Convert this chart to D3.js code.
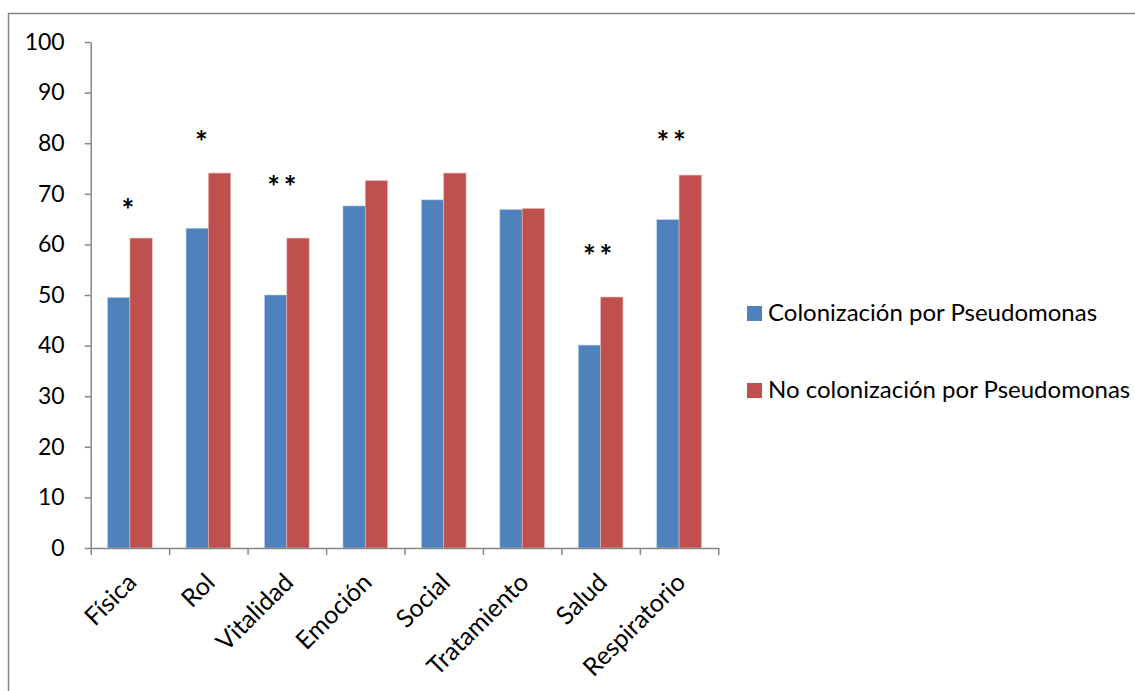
<!DOCTYPE html>
<html>
<head>
<meta charset="utf-8">
<script src="https://cdn.jsdelivr.net/npm/d3@7"></script>
<style>
  html, body { margin: 0; padding: 0; background: #fff; }
  svg { display: block; font-family: Lato, "Open Sans", sans-serif; }
</style>
</head>
<body>
<svg id="chart" width="1135" height="691"></svg>
<script>
// Quality-of-life domains
const categories = ["Física", "Rol", "Vitalidad", "Emoción", "Social", "Tratamiento", "Salud", "Respiratorio"];
const seriesNames = ["Colonización por Pseudomonas", "No colonización por Pseudomonas"];
const colonizados = [49.5, 63.2, 50.0, 67.6, 68.8, 66.9, 40.1, 64.9];
const noColonizados = [61.25, 74.1, 61.25, 72.6, 74.1, 67.1, 49.6, 73.7];
const yTicks = [0, 10, 20, 30, 40, 50, 60, 70, 80, 90, 100];
// Significance marks: category, mark, baseline height on the value axis
const sigCategories = ["Física", "Rol", "Vitalidad", "Salud", "Respiratorio"];
const sigMarks = ["*", "*", "**", "**", "**"];
const sigLevels = [64.6, 78.0, 69.1, 55.6, 78.0];
const sigShift = [-2, -7, -5, -3, -8];

const colors = ["#4F81BD", "#C0504D"];
const svg = d3.select("#chart");

// Outer chart frame (extends past the right and bottom edges)
svg.append("rect")
  .attr("x", 8.5).attr("y", 13.5)
  .attr("width", 1200).attr("height", 800)
  .attr("fill", "none").attr("stroke", "#868686").attr("stroke-width", 1.5);

const plot = { left: 90.7, right: 718.3, top: 42, bottom: 548 };

const x0 = d3.scaleBand()
  .domain(categories)
  .range([plot.left, plot.right])
  .paddingInner(0.431)
  .paddingOuter(0.2155);

const x1 = d3.scaleBand()
  .domain([0, 1])
  .range([0, x0.bandwidth()]);

const y = d3.scaleLinear().domain([0, 100]).range([plot.bottom, plot.top]);

const series = [colonizados, noColonizados];

// Bars
series.forEach((vals, si) => {
  svg.append("g").selectAll("rect")
    .data(vals)
    .join("rect")
    .attr("x", (d, i) => x0(categories[i]) + x1(si))
    .attr("y", d => y(d))
    .attr("width", x1.bandwidth())
    .attr("height", d => y(0) - y(d))
    .attr("fill", colors[si])
    .attr("stroke", si === 0 ? "#b9cde5" : "#e6b9b8")
    .attr("stroke-width", 0.6);
});

// Y axis
const yAxis = svg.append("g")
  .attr("transform", `translate(${plot.left},0)`)
  .call(d3.axisLeft(y).tickValues(yTicks).tickSize(6).tickPadding(20).tickSizeOuter(0));
yAxis.select(".domain").attr("stroke", "#868686").attr("stroke-width", 1.5);
yAxis.selectAll(".tick line").attr("stroke", "#868686").attr("stroke-width", 1.5);
yAxis.selectAll(".tick text")
  .attr("font-size", 23).attr("fill", "#000")
  .attr("font-family", "Lato, sans-serif");

// X axis: ticks at category boundaries
const xb = d3.scaleLinear().domain([0, categories.length]).range([plot.left, plot.right]);
const xAxis = svg.append("g")
  .attr("transform", `translate(0,${plot.bottom})`)
  .call(d3.axisBottom(xb).tickValues(d3.range(categories.length + 1))
    .tickSize(7).tickSizeOuter(0).tickFormat(""));
xAxis.select(".domain").attr("stroke", "#868686").attr("stroke-width", 1.5);
xAxis.selectAll(".tick line").attr("stroke", "#868686").attr("stroke-width", 1.5);

// Rotated category labels
svg.append("g").selectAll("text")
  .data(categories)
  .join("text")
  .attr("transform", d => `translate(${x0(d) + x0.bandwidth() / 2 + 8},${584}) rotate(-45)`)
  .attr("text-anchor", "end")
  .attr("font-size", 25)
  .attr("fill", "#000")
  .text(d => d);

// Significance asterisks
svg.append("g").selectAll("text")
  .data(sigCategories)
  .join("text")
  .attr("x", (d, i) => x0(d) + x0.bandwidth() / 2 + sigShift[i])
  .attr("y", (d, i) => y(sigLevels[i]))
  .attr("text-anchor", "middle")
  .attr("font-size", 30)
  .attr("font-weight", "bold")
  .attr("font-family", "Lato, sans-serif")
  .attr("fill", "#000")
  .text((d, i) => sigMarks[i].split("").join("\u2009"));

// Legend
const legend = svg.append("g").selectAll("g")
  .data(seriesNames)
  .join("g")
  .attr("transform", (d, i) => `translate(747,${306 + i * 77})`);
legend.append("rect")
  .attr("width", 15).attr("height", 15)
  .attr("fill", (d, i) => colors[i]);
legend.append("text")
  .attr("x", 21).attr("y", 15)
  .attr("font-size", 24)
  .attr("fill", "#000")
  .text(d => d);
</script>
</body>
</html>
